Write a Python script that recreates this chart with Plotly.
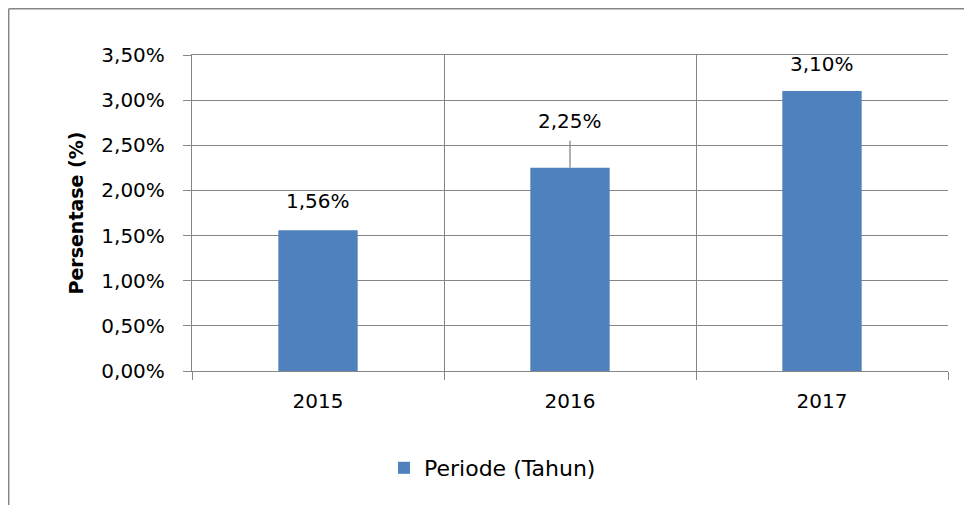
import plotly.graph_objects as go

# data
tahun = ["2015", "2016", "2017"]
persentase = [1.56, 2.25, 3.10]
garis_label = [0, 0.30, 0]  # leader line above the 2016 bar
y_ticks = [0, 0.5, 1.0, 1.5, 2.0, 2.5, 3.0, 3.5]
y_ticktext = [f"{v:.2f}%".replace(".", ",") for v in y_ticks]
label_bar = [f"{v:.2f}%".replace(".", ",") for v in persentase]

# label offsets above bar tops (px)
label_shift = [29, 47, 27]

W, H = 972, 505
# the page body adds an 8px margin, so positions are shifted by -8
L, R, T, B = 184, 32, 47, 142
grey = "#868686"
font = "DejaVu Sans"

fig = go.Figure()
fig.add_trace(go.Bar(
    x=tahun, y=persentase, name="Periode (Tahun)",
    marker=dict(color="#4F81BD", line=dict(width=0)),
    width=0.315,
    error_y=dict(type="data", symmetric=False, array=garis_label,
                 arrayminus=[0, 0, 0], width=0, thickness=1.3, color=grey),
))

# category axis: annotations use the serial index of each category
for i, (v, t) in enumerate(zip(persentase, label_bar)):
    fig.add_annotation(x=i, y=v, xref="x", yref="y", text=t,
                       showarrow=False, yshift=label_shift[i],
                       yanchor="middle",
                       font=dict(size=20, color="black", family=font))

pw, ph = W - L - R, H - T - B
def px_x(p):
    return (p - L) / pw
def px_y(p):
    return (H - B - p) / ph

# outer frame (top and left)
fig.add_shape(type="line", xref="paper", yref="paper",
              x0=px_x(0.7), x1=px_x(972), y0=px_y(0.7), y1=px_y(0.7),
              line=dict(color=grey, width=1.5))
fig.add_shape(type="line", xref="paper", yref="paper",
              x0=px_x(0.7), x1=px_x(0.7), y0=px_y(0.7), y1=px_y(505),
              line=dict(color=grey, width=1.5))

fig.update_layout(
    width=W, height=H,
    margin=dict(l=L, r=R, t=T, b=B),
    paper_bgcolor="white", plot_bgcolor="white",
    font=dict(family=font, size=20, color="black"),
    showlegend=True,
    legend=dict(orientation="h", x=px_x(376), xanchor="left",
                y=px_y(460), yanchor="middle",
                font=dict(size=22), itemsizing="constant"),
    xaxis=dict(type="category", categoryorder="array", categoryarray=tahun,
               tickson="boundaries", showgrid=True,
               gridcolor=grey, gridwidth=1.3, showline=True, linecolor=grey,
               linewidth=1.3, ticks="outside", ticklen=8, tickcolor=grey,
               tickwidth=1.3, mirror=True, ticklabelstandoff=12,
               tickfont=dict(size=20)),
    yaxis=dict(range=[0, 3.5], tickmode="array", tickvals=y_ticks,
               ticktext=y_ticktext, showgrid=True, gridcolor=grey,
               gridwidth=1.3, showline=True, linecolor=grey, linewidth=1.3,
               ticks="outside", ticklen=8, tickcolor=grey, tickwidth=1.3,
               zeroline=False, ticklabelstandoff=14, tickfont=dict(size=20),
               title=dict(text="<b>Persentase (%)</b>", standoff=12,
                          font=dict(size=19))),
)

fig.write_html("out.html")
